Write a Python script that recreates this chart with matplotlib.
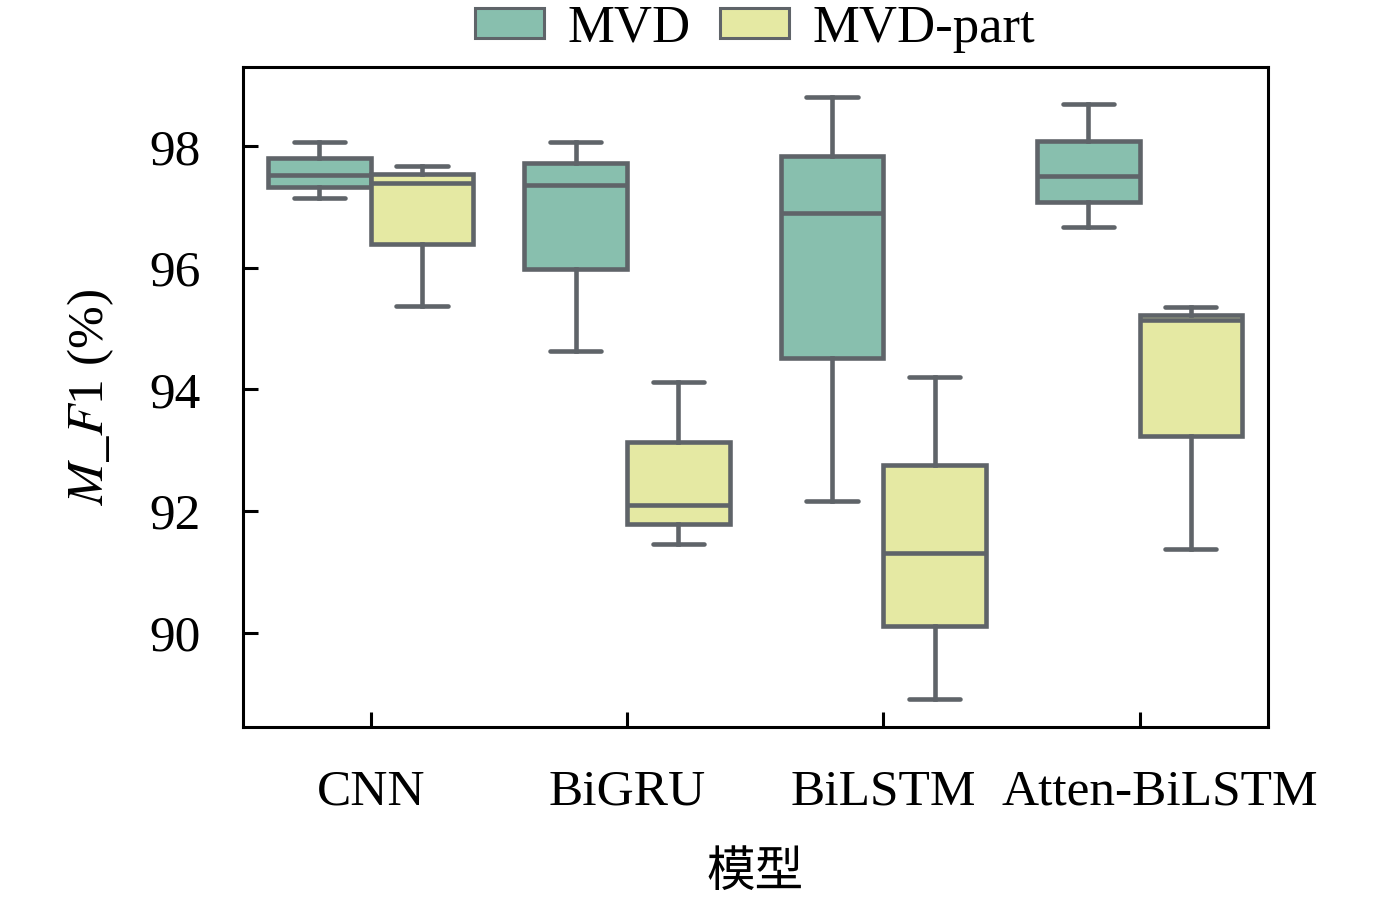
import matplotlib
matplotlib.use("Agg")
import matplotlib.pyplot as plt
from matplotlib.patches import Patch
from matplotlib.transforms import ScaledTranslation
import numpy as np

plt.rcParams['font.family'] = ['Liberation Serif', 'Noto Sans CJK SC']
plt.rcParams['mathtext.fontset'] = 'stix'

models = ["CNN", "BiGRU", "BiLSTM", "Atten-BiLSTM"]
series = ["MVD", "MVD-part"]

# box stats: whisker low, q1, median, q3, whisker high
mvd_stats = [
    [97.15, 97.33, 97.53, 97.81, 98.07],
    [94.63, 95.99, 97.37, 97.73, 98.08],
    [92.16, 94.52, 96.90, 97.84, 98.81],
    [96.67, 97.08, 97.51, 98.09, 98.70],
]
part_stats = [
    [95.37, 96.39, 97.40, 97.55, 97.67],
    [91.45, 91.79, 92.10, 93.14, 94.13],
    [88.90, 90.10, 91.31, 92.75, 94.20],
    [91.37, 93.24, 95.14, 95.23, 95.35],
]

colors = ["#88bfae", "#e5e9a3"]
line_color = "#5f6469"


def to_bxp(stats, label):
    out = []
    for lo, q1, med, q3, hi in stats:
        out.append({"whislo": lo, "q1": q1, "med": med, "q3": q3,
                    "whishi": hi, "fliers": [], "label": label})
    return out


fig, ax = plt.subplots(figsize=(13.78, 8.99), dpi=100)
fig.subplots_adjust(left=0.176, right=0.92, top=0.925, bottom=0.191)

x = np.arange(len(models))
lw = 3.3
for k, (stats, col) in enumerate([(mvd_stats, colors[0]), (part_stats, colors[1])]):
    pos = x - 0.2 + 0.4 * k
    ax.bxp(to_bxp(stats, series[k]), positions=pos, widths=0.4,
           patch_artist=True, showfliers=False,
           boxprops=dict(facecolor=col, edgecolor=line_color, linewidth=lw),
           medianprops=dict(color=line_color, linewidth=lw),
           whiskerprops=dict(color=line_color, linewidth=lw),
           capprops=dict(color=line_color, linewidth=lw, solid_capstyle='round'))

ax.set_xlim(-0.5, 3.5)
ax.set_ylim(88.44, 99.30)
ax.set_xticks(x)
ax.set_xticklabels(models)
ax.set_yticks([90, 92, 94, 96, 98])
ax.tick_params(axis='both', direction='in', length=11, width=2.2,
               labelsize=37)
ax.tick_params(axis='y', pad=30)
ax.tick_params(axis='x', pad=30)
for s in ax.spines.values():
    s.set_linewidth(2.2)

# last label sits a bit to the right in the original
lab = ax.get_xticklabels()[-1]
lab.set_transform(lab.get_transform() + ScaledTranslation(0.2, 0, fig.dpi_scale_trans))

ax.set_ylabel(r"$M\_F$1 (%)", fontsize=37, labelpad=24)
ax.set_xlabel("模型", fontsize=35, labelpad=26)

handles = [Patch(facecolor=colors[i], edgecolor=line_color, linewidth=2.2, label=series[i])
           for i in range(2)]
ax.legend(handles=handles, loc='center', bbox_to_anchor=(0.548, 0.968),
          bbox_transform=fig.transFigure, ncol=2,
          frameon=False, fontsize=38, handlelength=1.3, handleheight=0.5,
          columnspacing=0.55, handletextpad=0.45, borderaxespad=0, borderpad=0)

fig.savefig("out.png", dpi=100)
